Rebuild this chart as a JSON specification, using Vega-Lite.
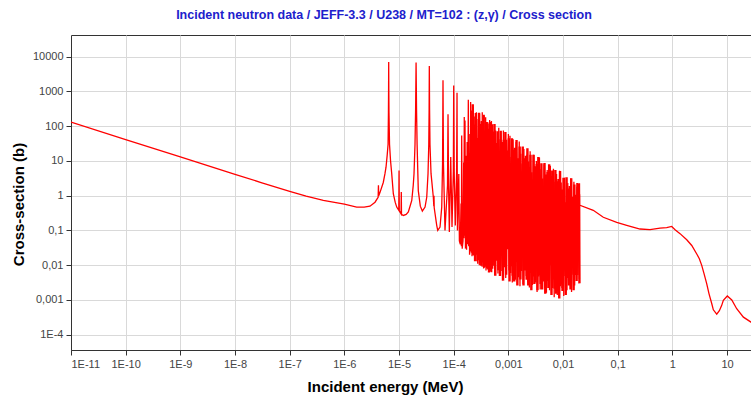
{
  "$schema": "https://vega.github.io/schema/vega-lite/v6.json",
  "autosize": {"type": "none"},
  "padding": {"left": 71, "top": 35, "right": 0, "bottom": 49},
  "width": 680,
  "height": 315,
  "background": "white",
  "title": {
    "text": "Incident neutron data / JEFF-3.3 / U238 / MT=102 : (z,γ) / Cross section",
    "font": "Liberation Sans",
    "fontSize": 12.5,
    "fontWeight": "bold",
    "color": "#2020cc",
    "anchor": "middle",
    "frame": "group",
    "dx": -27,
    "offset": 14
  },
  "config": {
    "view": {"stroke": "#333333", "strokeWidth": 1},
    "axis": {
      "labelFont": "Liberation Sans",
      "labelFontSize": 11,
      "labelColor": "#444444",
      "titleFont": "Liberation Sans",
      "titleFontSize": 15,
      "titleFontWeight": "bold",
      "titleColor": "#000000",
      "domainColor": "#333333",
      "tickColor": "#333333",
      "tickSize": 5,
      "labelPadding": 3,
      "gridColor": "#d9d9d9",
      "gridWidth": 1
    }
  },
  "datasets": {
    "main": [
      {"e": 1e-11, "s": 131}, {"e": 1e-10, "s": 41.4}, {"e": 1e-9, "s": 13.1}, {"e": 1e-8, "s": 4.14}, {"e": 3e-8, "s": 2.39},
      {"e": 1e-7, "s": 1.34}, {"e": 2e-7, "s": 0.97}, {"e": 4.12e-7, "s": 0.73}, {"e": 7e-7, "s": 0.63}, {"e": 1e-6, "s": 0.57},
      {"e": 1.68e-6, "s": 0.47}, {"e": 2.3e-6, "s": 0.47}, {"e": 2.94e-6, "s": 0.5}, {"e": 3.64e-6, "s": 0.65}, {"e": 4e-6, "s": 0.82},
      {"e": 4.15e-6, "s": 0.9}, {"e": 4.2e-6, "s": 2.0}, {"e": 4.25e-6, "s": 1.0}, {"e": 4.49e-6, "s": 1.25}, {"e": 5.15e-6, "s": 2.4},
      {"e": 5.53e-6, "s": 4.3}, {"e": 5.78e-6, "s": 6.6}, {"e": 6.08e-6, "s": 15}, {"e": 6.3e-6, "s": 30}, {"e": 6.4e-6, "s": 250},
      {"e": 6.44e-6, "s": 1200}, {"e": 6.47e-6, "s": 7000}, {"e": 6.5e-6, "s": 1200}, {"e": 6.55e-6, "s": 250}, {"e": 6.7e-6, "s": 30},
      {"e": 7.0e-6, "s": 10}, {"e": 7.35e-6, "s": 4.3}, {"e": 7.86e-6, "s": 1.14}, {"e": 8.5e-6, "s": 0.65}, {"e": 9.07e-6, "s": 0.47},
      {"e": 9.9e-6, "s": 0.38}, {"e": 1e-5, "s": 5.3}, {"e": 1.01e-5, "s": 0.37}, {"e": 1.09e-5, "s": 0.3}, {"e": 1.1e-5, "s": 1.27},
      {"e": 1.11e-5, "s": 0.29}, {"e": 1.2e-5, "s": 0.27}, {"e": 1.35e-5, "s": 0.29}, {"e": 1.48e-5, "s": 0.34}, {"e": 1.62e-5, "s": 0.55},
      {"e": 1.71e-5, "s": 0.73}, {"e": 1.82e-5, "s": 2.0}, {"e": 1.88e-5, "s": 4.3}, {"e": 1.96e-5, "s": 30}, {"e": 2.01e-5, "s": 300},
      {"e": 2.05e-5, "s": 6800}, {"e": 2.09e-5, "s": 300}, {"e": 2.14e-5, "s": 30}, {"e": 2.25e-5, "s": 1.4}, {"e": 2.45e-5, "s": 0.5},
      {"e": 2.67e-5, "s": 0.36}, {"e": 2.99e-5, "s": 0.47}, {"e": 3.21e-5, "s": 0.9}, {"e": 3.39e-5, "s": 4.3}, {"e": 3.5e-5, "s": 30},
      {"e": 3.55e-5, "s": 300}, {"e": 3.58e-5, "s": 5360}, {"e": 3.62e-5, "s": 300}, {"e": 3.68e-5, "s": 30}, {"e": 3.85e-5, "s": 4.3},
      {"e": 4.24e-5, "s": 0.9}, {"e": 4.33e-5, "s": 0.5}, {"e": 4.36e-5, "s": 1.0}, {"e": 4.4e-5, "s": 0.45}, {"e": 4.89e-5, "s": 0.14},
      {"e": 5.1e-5, "s": 0.1}, {"e": 5.62e-5, "s": 0.125}, {"e": 6.04e-5, "s": 0.47}, {"e": 6.25e-5, "s": 8}, {"e": 6.37e-5, "s": 2090},
      {"e": 6.5e-5, "s": 8}, {"e": 6.93e-5, "s": 0.1}, {"e": 7.7e-5, "s": 2}, {"e": 7.87e-5, "s": 220}, {"e": 8.05e-5, "s": 2},
      {"e": 8.32e-5, "s": 0.09}, {"e": 8.82e-5, "s": 12.9}, {"e": 9.31e-5, "s": 0.125}, {"e": 9.85e-5, "s": 5}, {"e": 1e-4, "s": 1490},
      {"e": 1.02e-4, "s": 5}, {"e": 1.07e-4, "s": 0.14}, {"e": 1.13e-4, "s": 5}, {"e": 1.15e-4, "s": 920},
      {"e": 1.17e-4, "s": 0.1}, {"e": 1.24e-4, "s": 4.2}, {"e": 1.27e-4, "s": 0.05}, {"e": 1.32e-4, "s": 0.04}, {"e": 1.36e-4, "s": 0.6},
      {"e": 1.38e-4, "s": 0.035}, {"e": 1.4e-4, "s": 54}, {"e": 1.43e-4, "s": 0.03}, {"e": 1.48e-4, "s": 0.05}, {"e": 1.52e-4, "s": 9},
      {"e": 1.54e-4, "s": 0.06}, {"e": 1.56e-4, "s": 183}, {"e": 1.585e-4, "s": 0.07}, {"e": 1.61e-4, "s": 145}, {"e": 1.64e-4, "s": 0.03},
      {"e": 1.68e-4, "s": 14}, {"e": 1.72e-4, "s": 0.028}, {"e": 1.76e-4, "s": 35}, {"e": 1.8e-4, "s": 0.04}, {"e": 1.85e-4, "s": 580},
      {"e": 1.88e-4, "s": 0.035}, {"e": 1.91e-4, "s": 60}, {"e": 1.95e-4, "s": 0.02}, {"e": 2e-4, "s": 0.03}, {"e": 2.04e-4, "s": 500},
      {"e": 2.08e-4, "s": 0.025}, {"e": 2.13e-4, "s": 40}, {"e": 2.16e-4, "s": 0.018}, {"e": 2.2e-4, "s": 110}, {"e": 2.23e-4, "s": 0.02},
      {"e": 2.26e-4, "s": 355}, {"e": 2.3e-4, "s": 0.019}, {"e": 2.35e-4, "s": 25}, {"e": 2.39e-4, "s": 0.022}, {"e": 2.43e-4, "s": 190},
      {"e": 2.48e-4, "s": 0.015}, {"e": 2.53e-4, "s": 70}, {"e": 2.56e-4, "s": 0.02}, {"e": 2.6e-4, "s": 250}, {"e": 2.65e-4, "s": 0.013},
      {"e": 2.71e-4, "s": 45}, {"e": 2.75e-4, "s": 0.011}, {"e": 2.8e-4, "s": 160}, {"e": 2.86e-4, "s": 0.014}, {"e": 2.91e-4, "s": 90},
      {"e": 2.94e-4, "s": 0.01}, {"e": 2.97e-4, "s": 230}, {"e": 3.03e-4, "s": 0.012}, {"e": 3.09e-4, "s": 30}, {"e": 3.14e-4, "s": 0.0097},
      {"e": 3.2e-4, "s": 140}, {"e": 3.26e-4, "s": 0.011}, {"e": 3.3e-4, "s": 60}, {"e": 3.31e-4, "s": 0.009}, {"e": 3.33e-4, "s": 250},
      {"e": 3.39e-4, "s": 0.012}, {"e": 3.46e-4, "s": 110}, {"e": 3.52e-4, "s": 0.008}, {"e": 3.58e-4, "s": 200}, {"e": 3.65e-4, "s": 0.0085},
      {"e": 3.72e-4, "s": 75}, {"e": 3.78e-4, "s": 0.01}, {"e": 3.84e-4, "s": 180}, {"e": 3.9e-4, "s": 0.007}, {"e": 3.95e-4, "s": 50},
      {"e": 3.97e-4, "s": 0.009}, {"e": 4e-4, "s": 130}, {"e": 4.07e-4, "s": 0.008}, {"e": 4.14e-4, "s": 35}, {"e": 4.2e-4, "s": 0.0075},
      {"e": 4.26e-4, "s": 120}, {"e": 4.33e-4, "s": 0.009}, {"e": 4.4e-4, "s": 85}, {"e": 4.47e-4, "s": 0.0068}, {"e": 4.54e-4, "s": 150},
      {"e": 4.61e-4, "s": 0.008}, {"e": 4.68e-4, "s": 40}, {"e": 4.75e-4, "s": 0.0065}, {"e": 4.82e-4, "s": 110}, {"e": 4.86e-4, "s": 0.0072},
      {"e": 4.9e-4, "s": 140}, {"e": 4.96e-4, "s": 0.0063},
      {"e": 5.13e-4, "s": 114}, {"e": 5.3e-4, "s": 0.0096}, {"e": 5.48e-4, "s": 47}, {"e": 5.66e-4, "s": 0.0051}, {"e": 5.85e-4, "s": 75},
      {"e": 6.04e-4, "s": 0.017}, {"e": 6.24e-4, "s": 19}, {"e": 6.45e-4, "s": 0.0058}, {"e": 6.67e-4, "s": 90}, {"e": 6.89e-4, "s": 0.032},
      {"e": 7.12e-4, "s": 42}, {"e": 7.35e-4, "s": 0.0068}, {"e": 7.6e-4, "s": 22}, {"e": 7.85e-4, "s": 0.0037}, {"e": 8.11e-4, "s": 75},
      {"e": 8.38e-4, "s": 0.0099}, {"e": 8.66e-4, "s": 8.7}, {"e": 8.95e-4, "s": 0.0043}, {"e": 9.25e-4, "s": 41}, {"e": 9.56e-4, "s": 0.041},
      {"e": 1e-3, "s": 60}, {"e": 1.03e-3, "s": 0.007}, {"e": 1.07e-3, "s": 53}, {"e": 1.1e-3, "s": 0.006}, {"e": 1.14e-3, "s": 13},
      {"e": 1.18e-3, "s": 0.0032}, {"e": 1.22e-3, "s": 42}, {"e": 1.26e-3, "s": 0.011}, {"e": 1.3e-3, "s": 18}, {"e": 1.34e-3, "s": 0.0038},
      {"e": 1.39e-3, "s": 35}, {"e": 1.43e-3, "s": 0.021}, {"e": 1.48e-3, "s": 7.6}, {"e": 1.53e-3, "s": 0.0045}, {"e": 1.58e-3, "s": 36},
      {"e": 1.63e-3, "s": 0.0025}, {"e": 1.69e-3, "s": 16}, {"e": 1.74e-3, "s": 0.0068}, {"e": 1.8e-3, "s": 8.5}, {"e": 1.86e-3, "s": 0.0029},
      {"e": 1.92e-3, "s": 22}, {"e": 1.99e-3, "s": 0.028}, {"e": 2.05e-3, "s": 3.2}, {"e": 2.12e-3, "s": 0.0049}, {"e": 2.19e-3, "s": 15},
      {"e": 2.27e-3, "s": 0.0042}, {"e": 2.34e-3, "s": 9.7}, {"e": 2.42e-3, "s": 0.0023}, {"e": 2.5e-3, "s": 19}, {"e": 2.58e-3, "s": 0.0078},
      {"e": 2.67e-3, "s": 4.7}, {"e": 2.76e-3, "s": 0.0027}, {"e": 2.85e-3, "s": 15}, {"e": 2.94e-3, "s": 0.015}, {"e": 3.04e-3, "s": 6.3},
      {"e": 3.14e-3, "s": 0.0032}, {"e": 3.25e-3, "s": 10}, {"e": 3.35e-3, "s": 0.0017}, {"e": 3.47e-3, "s": 2.7}, {"e": 3.58e-3, "s": 0.0047},
      {"e": 3.7e-3, "s": 12.5}, {"e": 3.82e-3, "s": 0.002}, {"e": 3.95e-3, "s": 5.8}, {"e": 4.08e-3, "s": 0.02}, {"e": 4.22e-3, "s": 3.1},
      {"e": 4.36e-3, "s": 0.0034}, {"e": 4.5e-3, "s": 8}, {"e": 4.65e-3, "s": 0.0029}, {"e": 4.81e-3, "s": 1.2}, {"e": 4.97e-3, "s": 0.0016},
      {"e": 5.13e-3, "s": 5.5}, {"e": 5.3e-3, "s": 0.0055}, {"e": 5.48e-3, "s": 3.6}, {"e": 5.66e-3, "s": 0.0019}, {"e": 5.85e-3, "s": 7.3},
      {"e": 6.04e-3, "s": 0.01}, {"e": 6.24e-3, "s": 1.8}, {"e": 6.45e-3, "s": 0.0022}, {"e": 6.67e-3, "s": 6}, {"e": 6.89e-3, "s": 0.0012},
      {"e": 7.12e-3, "s": 2.5}, {"e": 7.35e-3, "s": 0.0033}, {"e": 7.6e-3, "s": 4.2}, {"e": 7.85e-3, "s": 0.0014}, {"e": 8.11e-3, "s": 1.1},
      {"e": 8.38e-3, "s": 0.014}, {"e": 8.66e-3, "s": 5.2}, {"e": 8.95e-3, "s": 0.0025}, {"e": 9.25e-3, "s": 2.4}, {"e": 9.56e-3, "s": 0.0022},
      {"e": 1e-2, "s": 1.26}, {"e": 1.03e-2, "s": 0.0013}, {"e": 1.07e-2, "s": 3.3}, {"e": 1.1e-2, "s": 0.0049}, {"e": 1.14e-2, "s": 0.49},
      {"e": 1.18e-2, "s": 0.0019}, {"e": 1.22e-2, "s": 2.3}, {"e": 1.26e-2, "s": 0.011}, {"e": 1.3e-2, "s": 1.5}, {"e": 1.34e-2, "s": 0.0028},
      {"e": 1.39e-2, "s": 3.1}, {"e": 1.43e-2, "s": 0.0017}, {"e": 1.48e-2, "s": 0.76}, {"e": 1.53e-2, "s": 0.0053}, {"e": 1.58e-2, "s": 2.5},
      {"e": 1.63e-2, "s": 0.0026}, {"e": 1.69e-2, "s": 1.07}, {"e": 1.74e-2, "s": 0.028}, {"e": 1.8e-2, "s": 1.8}, {"e": 1.86e-2, "s": 0.0052},
      {"e": 1.92e-2, "s": 2.2}, {"e": 1.99e-2, "s": 0.004}, {"e": 2e-2, "s": 2.3}, {"e": 2.01e-2, "s": 0.55},
      {"e": 2.04e-2, "s": 0.53}, {"e": 3.57e-2, "s": 0.38}, {"e": 5.45e-2, "s": 0.24}, {"e": 9.59e-2, "s": 0.17}, {"e": 0.146, "s": 0.14},
      {"e": 0.256, "s": 0.11}, {"e": 0.39, "s": 0.105}, {"e": 0.594, "s": 0.117}, {"e": 0.787, "s": 0.12}, {"e": 0.972, "s": 0.13},
      {"e": 1.12, "s": 0.105}, {"e": 1.38, "s": 0.081}, {"e": 1.83, "s": 0.054}, {"e": 2.26, "s": 0.037}, {"e": 2.79, "s": 0.021},
      {"e": 3.11, "s": 0.0154}, {"e": 3.44, "s": 0.0099}, {"e": 3.79, "s": 0.0057}, {"e": 4.25, "s": 0.0029}, {"e": 4.68, "s": 0.0015},
      {"e": 5.24, "s": 0.00079}, {"e": 5.61, "s": 0.00052}, {"e": 6.47, "s": 0.00039}, {"e": 7.23, "s": 0.00049}, {"e": 7.98, "s": 0.0007},
      {"e": 8.55, "s": 0.00097}, {"e": 10.1, "s": 0.0013}, {"e": 12.2, "s": 0.001}, {"e": 15, "s": 0.00056}, {"e": 19.9, "s": 0.00032},
      {"e": 27.4, "s": 0.00023}, {"e": 30, "s": 0.00021}
    ],
    "forest": [
      {"e": 2.09e-4, "s": 282}, {"e": 2.16e-4, "s": 0.023}, {"e": 2.23e-4, "s": 427}, {"e": 2.31e-4, "s": 0.078}, {"e": 2.38e-4, "s": 112},
      {"e": 2.46e-4, "s": 0.013}, {"e": 2.54e-4, "s": 240}, {"e": 2.63e-4, "s": 0.03}, {"e": 2.72e-4, "s": 46}, {"e": 2.81e-4, "s": 0.017},
      {"e": 2.9e-4, "s": 245}, {"e": 2.99e-4, "s": 0.087}, {"e": 3.09e-4, "s": 115}, {"e": 3.2e-4, "s": 0.01}, {"e": 3.3e-4, "s": 132},
      {"e": 3.41e-4, "s": 0.026}, {"e": 3.53e-4, "s": 214}, {"e": 3.64e-4, "s": 0.014}, {"e": 3.76e-4, "s": 62}, {"e": 3.89e-4, "s": 0.0091},
      {"e": 4.02e-4, "s": 133}, {"e": 4.15e-4, "s": 0.034}, {"e": 4.29e-4, "s": 26}, {"e": 4.43e-4, "s": 0.0062}, {"e": 4.58e-4, "s": 132},
      {"e": 4.73e-4, "s": 0.014}, {"e": 4.89e-4, "s": 61}, {"e": 5.05e-4, "s": 0.0079}, {"e": 5.22e-4, "s": 70}, {"e": 5.39e-4, "s": 0.042},
      {"e": 5.57e-4, "s": 116}, {"e": 5.76e-4, "s": 0.005}, {"e": 5.95e-4, "s": 33}, {"e": 6.14e-4, "s": 0.0135}, {"e": 6.35e-4, "s": 72},
      {"e": 6.56e-4, "s": 0.0072}, {"e": 6.78e-4, "s": 14}, {"e": 7.01e-4, "s": 0.0049}, {"e": 7.24e-4, "s": 74}, {"e": 7.48e-4, "s": 0.019},
      {"e": 7.73e-4, "s": 35}, {"e": 7.98e-4, "s": 0.0036}, {"e": 8.25e-4, "s": 41}, {"e": 8.52e-4, "s": 0.0087}, {"e": 8.81e-4, "s": 68},
      {"e": 9.1e-4, "s": 0.0053}, {"e": 9.41e-4, "s": 20}, {"e": 9.78e-4, "s": 0.029},
      {"e": 1.02e-3, "s": 45}, {"e": 1.05e-3, "s": 0.0034}, {"e": 1.09e-3, "s": 8.6}, {"e": 1.12e-3, "s": 0.0094}, {"e": 1.16e-3, "s": 45},
      {"e": 1.2e-3, "s": 0.005}, {"e": 1.24e-3, "s": 21}, {"e": 1.28e-3, "s": 0.0034}, {"e": 1.32e-3, "s": 24}, {"e": 1.37e-3, "s": 0.0135},
      {"e": 1.41e-3, "s": 40}, {"e": 1.46e-3, "s": 0.0026}, {"e": 1.51e-3, "s": 12}, {"e": 1.56e-3, "s": 0.0064}, {"e": 1.61e-3, "s": 26},
      {"e": 1.66e-3, "s": 0.0039}, {"e": 1.72e-3, "s": 5.0}, {"e": 1.77e-3, "s": 0.021}, {"e": 1.83e-3, "s": 26}, {"e": 1.89e-3, "s": 0.0026},
      {"e": 1.96e-3, "s": 12}, {"e": 2.02e-3, "s": 0.007}, {"e": 2.09e-3, "s": 14}, {"e": 2.16e-3, "s": 0.0038}, {"e": 2.23e-3, "s": 23},
      {"e": 2.31e-3, "s": 0.0026}, {"e": 2.38e-3, "s": 6.7}, {"e": 2.46e-3, "s": 0.01}, {"e": 2.54e-3, "s": 15}, {"e": 2.63e-3, "s": 0.0019},
      {"e": 2.72e-3, "s": 2.9}, {"e": 2.81e-3, "s": 0.0047}, {"e": 2.9e-3, "s": 15}, {"e": 2.99e-3, "s": 0.0029}, {"e": 3.09e-3, "s": 7.0},
      {"e": 3.2e-3, "s": 0.016}, {"e": 3.3e-3, "s": 8.1}, {"e": 3.41e-3, "s": 0.0019}, {"e": 3.53e-3, "s": 13}, {"e": 3.64e-3, "s": 0.0052},
      {"e": 3.76e-3, "s": 3.9}, {"e": 3.89e-3, "s": 0.0029}, {"e": 4.02e-3, "s": 8.6}, {"e": 4.15e-3, "s": 0.002}, {"e": 4.29e-3, "s": 1.7},
      {"e": 4.43e-3, "s": 0.0075}, {"e": 4.58e-3, "s": 8.7}, {"e": 4.73e-3, "s": 0.0015}, {"e": 4.89e-3, "s": 4.1}, {"e": 5.05e-3, "s": 0.0035},
      {"e": 5.22e-3, "s": 4.8}, {"e": 5.39e-3, "s": 0.0022}, {"e": 5.57e-3, "s": 8.0}, {"e": 5.76e-3, "s": 0.012}, {"e": 5.95e-3, "s": 2.4},
      {"e": 6.14e-3, "s": 0.0014}, {"e": 6.35e-3, "s": 5.3}, {"e": 6.56e-3, "s": 0.0039}, {"e": 6.78e-3, "s": 1.04}, {"e": 7.01e-3, "s": 0.0021},
      {"e": 7.24e-3, "s": 5.5}, {"e": 7.48e-3, "s": 0.0015}, {"e": 7.73e-3, "s": 2.6}, {"e": 7.98e-3, "s": 0.0056}, {"e": 8.25e-3, "s": 3.0},
      {"e": 8.52e-3, "s": 0.0011}, {"e": 8.81e-3, "s": 5.1}, {"e": 9.1e-3, "s": 0.0028}, {"e": 9.41e-3, "s": 1.5}, {"e": 9.78e-3, "s": 0.0018},
      {"e": 1.02e-2, "s": 3.3}, {"e": 1.05e-2, "s": 0.0105}, {"e": 1.09e-2, "s": 0.65}, {"e": 1.12e-2, "s": 0.0014}, {"e": 1.16e-2, "s": 3.4},
      {"e": 1.2e-2, "s": 0.0043}, {"e": 1.24e-2, "s": 1.6}, {"e": 1.28e-2, "s": 0.0026}, {"e": 1.32e-2, "s": 1.9}, {"e": 1.37e-2, "s": 0.002},
      {"e": 1.41e-2, "s": 3.2}, {"e": 1.46e-2, "s": 0.0089}, {"e": 1.51e-2, "s": 0.93}, {"e": 1.56e-2, "s": 0.0019}, {"e": 1.61e-2, "s": 2.1},
      {"e": 1.66e-2, "s": 0.0052}, {"e": 1.72e-2, "s": 0.42}, {"e": 1.77e-2, "s": 0.0035}, {"e": 1.83e-2, "s": 2.3}, {"e": 1.89e-2, "s": 0.021},
      {"e": 1.96e-2, "s": 1.1}, {"e": 1.995e-2, "s": 0.003}
    ]
  },
  "encoding": {
    "x": {
      "field": "e",
      "type": "quantitative",
      "scale": {"type": "log", "domain": [1e-11, 27.4], "nice": false},
      "axis": {
        "title": "Incident energy (MeV)",
        "values": [1e-11, 1e-10, 1e-9, 1e-8, 1e-7, 1e-6, 1e-5, 1e-4, 0.001, 0.01, 0.1, 1, 10],
        "labelExpr": "datum.value < 0.0005 ? '1E' + round(log(datum.value) / LN10) : replace('' + datum.value, '.', ',')",
        "grid": true,
        "titleX": 314,
        "titleY": 36,
        "titleBaseline": "middle"
      }
    },
    "y": {
      "field": "s",
      "type": "quantitative",
      "scale": {"type": "log", "domain": [3.63e-5, 42100], "nice": false},
      "axis": {
        "title": "Cross-section (b)",
        "values": [1e-4, 0.001, 0.01, 0.1, 1, 10, 100, 1000, 10000],
        "labelExpr": "datum.value < 0.0005 ? '1E' + round(log(datum.value) / LN10) : replace('' + datum.value, '.', ',')",
        "grid": true,
        "titleX": -53,
        "titleY": 169,
        "titleBaseline": "middle"
      }
    }
  },
  "layer": [
    {
      "data": {"name": "main"},
      "mark": {"type": "line", "color": "#ff0000", "strokeWidth": 1.3, "clip": true}
    },
    {
      "data": {"name": "forest"},
      "mark": {"type": "line", "color": "#ff0000", "strokeWidth": 2.4, "clip": true}
    }
  ]
}
